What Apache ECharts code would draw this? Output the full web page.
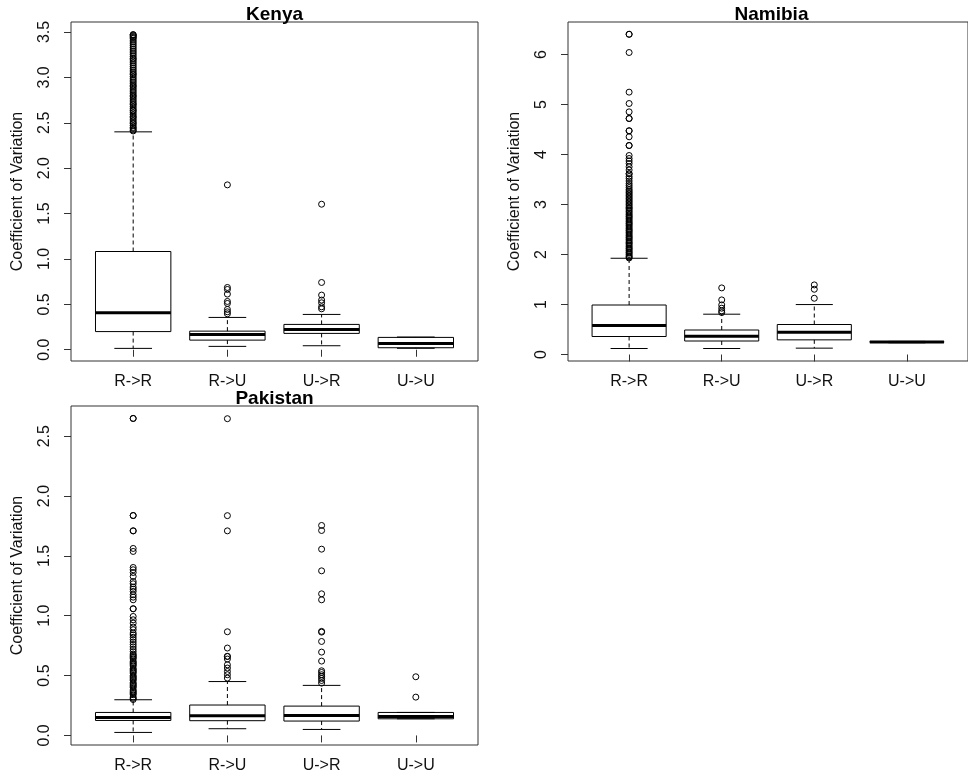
<!DOCTYPE html>
<html>
<head>
<meta charset="utf-8">
<title>Coefficient of Variation by transition type</title>
<script src="https://cdn.jsdelivr.net/npm/echarts@6/dist/echarts.min.js"></script>
<style>
  html, body { margin: 0; padding: 0; background: #ffffff; }
  #chart { width: 968px; height: 780px; }
</style>
</head>
<body>
<div id="chart"></div>
<script>
// Transition categories shared by every panel
const categories = ['R->R', 'R->U', 'U->R', 'U->U'];

// Five-number summaries per category: [lower whisker, Q1, median, Q3, upper whisker]
const kenyaStats = [
  [0.015, 0.200, 0.407, 1.082, 2.400],
  [0.037, 0.106, 0.169, 0.205, 0.356],
  [0.044, 0.180, 0.224, 0.279, 0.389],
  [0.016, 0.022, 0.070, 0.136, 0.140]
];
const namibiaStats = [
  [0.120, 0.360, 0.580, 0.990, 1.925],
  [0.120, 0.270, 0.366, 0.490, 0.806],
  [0.127, 0.293, 0.446, 0.600, 0.999],
  [0.235, 0.245, 0.250, 0.258, 0.262]
];
const pakistanStats = [
  [0.025, 0.125, 0.150, 0.192, 0.298],
  [0.056, 0.123, 0.164, 0.254, 0.450],
  [0.050, 0.120, 0.167, 0.245, 0.418],
  [0.139, 0.139, 0.159, 0.192, 0.192]
];

// Outlying observations per category
const kenyaOutliers = [
  [2.41, 2.42, 2.44, 2.45, 2.47, 2.49, 2.50, 2.52, 2.54, 2.56, 2.57, 2.59, 2.61, 2.63, 2.64, 2.66,
   2.68, 2.70, 2.71, 2.73, 2.75, 2.77, 2.79, 2.80, 2.82, 2.84, 2.86, 2.88, 2.90, 2.91, 2.93, 2.95,
   2.97, 2.99, 3.01, 3.03, 3.04, 3.06, 3.08, 3.10, 3.12, 3.14, 3.16, 3.18, 3.20, 3.21, 3.23, 3.25,
   3.27, 3.29, 3.31, 3.33, 3.35, 3.37, 3.39, 3.41, 3.43, 3.44, 3.45, 3.46, 3.47, 3.47],
  [0.396, 0.418, 0.444, 0.510, 0.532, 0.613, 0.664, 0.686, 1.816],
  [0.451, 0.473, 0.517, 0.547, 0.602, 0.741, 1.603],
  []
];
const namibiaOutliers = [
  [1.93, 1.95, 1.97, 2.00, 2.03, 2.05, 2.08, 2.11, 2.13, 2.16, 2.19, 2.22, 2.24, 2.27, 2.30, 2.33,
   2.35, 2.38, 2.41, 2.44, 2.47, 2.49, 2.52, 2.55, 2.58, 2.61, 2.63, 2.66, 2.69, 2.72, 2.75, 2.77,
   2.80, 2.83, 2.86, 2.89, 2.92, 2.94, 2.97, 3.00, 3.03, 3.06, 3.09, 3.12, 3.15, 3.18, 3.21, 3.24,
   3.27, 3.30, 3.34, 3.38, 3.42, 3.47, 3.52, 3.56, 3.615, 3.615, 3.69, 3.755, 3.82, 3.87, 3.92,
   3.98, 4.18, 4.18, 4.354, 4.474, 4.474, 4.72, 4.72, 4.853, 5.02, 5.247, 6.04, 6.405, 6.405],
  [0.839, 0.872, 0.926, 0.992, 1.092, 1.332],
  [1.125, 1.305, 1.392],
  []
];
const pakistanOutliers = [
  [0.30, 0.31, 0.32, 0.34, 0.35, 0.36, 0.37, 0.38, 0.40, 0.41, 0.42, 0.43, 0.44, 0.46, 0.47, 0.48,
   0.49, 0.50, 0.52, 0.53, 0.54, 0.55, 0.56, 0.58, 0.59, 0.60, 0.61, 0.62, 0.64, 0.65, 0.66, 0.67,
   0.68, 0.70, 0.72, 0.74, 0.76, 0.78, 0.80, 0.82, 0.84, 0.855, 0.883, 0.905, 0.938, 0.966, 0.994,
   1.058, 1.058, 1.133, 1.155, 1.175, 1.203, 1.222, 1.239, 1.267, 1.286, 1.328, 1.361, 1.384,
   1.403, 1.537, 1.562, 1.709, 1.709, 1.837, 1.837, 2.648, 2.648],
  [0.479, 0.507, 0.534, 0.563, 0.590, 0.638, 0.660, 0.660, 0.730, 0.866, 1.709, 1.836, 2.646],
  [0.437, 0.459, 0.476, 0.493, 0.507, 0.526, 0.540, 0.621, 0.696, 0.785, 0.863, 0.869,
   1.133, 1.183, 1.375, 1.556, 1.712, 1.754],
  [0.320, 0.490]
];

// Value-axis extents and tick labels
const kenyaRange = [-0.124, 3.61];
const namibiaRange = [-0.13, 6.65];
const pakistanRange = [-0.08, 2.752];
const kenyaTicks = [0, 0.5, 1.0, 1.5, 2.0, 2.5, 3.0, 3.5];
const namibiaTicks = [0, 1, 2, 3, 4, 5, 6];
const pakistanTicks = [0, 0.5, 1.0, 1.5, 2.0, 2.5];

const FONT = '"Liberation Sans", Arial, Helvetica, sans-serif';
const INK = '#000000';
const LABEL_SIZE = 16;
const TITLE_SIZE = 19;
const BOX_WIDTH = 0.8;     // box width in category units
const STAPLE_WIDTH = 0.4;  // whisker cap width in category units
const categoryPositions = categories.map((_, i) => i + 1);

const panels = [
  { title: 'Kenya', stats: kenyaStats, outliers: kenyaOutliers, range: kenyaRange, ticks: kenyaTicks, digits: 1,
    grid: { left: 71, top: 22, width: 407, height: 339 } },
  { title: 'Namibia', stats: namibiaStats, outliers: namibiaOutliers, range: namibiaRange, ticks: namibiaTicks, digits: 0,
    grid: { left: 568, top: 22, width: 407, height: 339 } },
  { title: 'Pakistan', stats: pakistanStats, outliers: pakistanOutliers, range: pakistanRange, ticks: pakistanTicks, digits: 1,
    grid: { left: 71, top: 406, width: 407, height: 339 } }
];

function renderBox(params, api) {
  const x = api.value(0);
  const lo = api.value(1), q1 = api.value(2), med = api.value(3), q3 = api.value(4), hi = api.value(5);
  const cx = api.coord([x, med])[0];
  const y = v => api.coord([x, v])[1];
  const half = api.size([BOX_WIDTH, 0])[0] / 2;
  const cap = api.size([STAPLE_WIDTH, 0])[0] / 2;
  const thin = { stroke: INK, lineWidth: 1, fill: null };
  const dashed = { stroke: INK, lineWidth: 1, lineDash: [4, 3], fill: null };
  return {
    type: 'group',
    children: [
      { type: 'line', shape: { x1: cx, y1: y(q3), x2: cx, y2: y(hi) }, style: dashed },
      { type: 'line', shape: { x1: cx, y1: y(q1), x2: cx, y2: y(lo) }, style: dashed },
      { type: 'line', shape: { x1: cx - cap, y1: y(hi), x2: cx + cap, y2: y(hi) }, style: thin },
      { type: 'line', shape: { x1: cx - cap, y1: y(lo), x2: cx + cap, y2: y(lo) }, style: thin },
      { type: 'rect', shape: { x: cx - half, y: y(q3), width: 2 * half, height: y(q1) - y(q3) }, style: thin },
      { type: 'line', shape: { x1: cx - half, y1: y(med), x2: cx + half, y2: y(med) },
        style: { stroke: INK, lineWidth: 3, fill: null } }
    ]
  };
}

const option = {
  backgroundColor: '#ffffff',
  animation: false,
  title: panels.map(p => ({
    text: p.title,
    left: p.grid.left + p.grid.width / 2,
    top: p.grid.top - 17,
    textAlign: 'center',
    padding: 0,
    textStyle: { fontFamily: FONT, fontSize: TITLE_SIZE, fontWeight: 'bold', color: INK }
  })),
  grid: panels.map(p => Object.assign({
    show: true, borderColor: '#333333', borderWidth: 1, backgroundColor: 'transparent', containLabel: false
  }, p.grid)),
  xAxis: panels.map((p, i) => ({
    type: 'value',
    gridIndex: i,
    min: 0.34,
    max: 4.66,
    axisLine: { show: false },
    splitLine: { show: false },
    axisTick: { show: true, customValues: categoryPositions, length: 7, lineStyle: { color: '#333333', width: 1 } },
    axisLabel: {
      show: true, customValues: categoryPositions, margin: 13,
      formatter: v => categories[Math.round(v) - 1],
      fontFamily: FONT, fontSize: LABEL_SIZE, color: '#111111'
    }
  })),
  yAxis: panels.map((p, i) => ({
    type: 'value',
    gridIndex: i,
    min: p.range[0],
    max: p.range[1],
    name: 'Coefficient of Variation',
    nameLocation: 'middle',
    nameRotate: 90,
    nameGap: 45,
    nameTextStyle: { fontFamily: FONT, fontSize: LABEL_SIZE, color: '#111111' },
    axisLine: { show: false },
    splitLine: { show: false },
    axisTick: { show: true, customValues: p.ticks, length: 7, lineStyle: { color: '#333333', width: 1 } },
    axisLabel: {
      show: true, customValues: p.ticks, rotate: 90, margin: 18,
      formatter: v => Number(v).toFixed(p.digits),
      fontFamily: FONT, fontSize: LABEL_SIZE, color: '#111111'
    }
  })),
  series: panels.flatMap((p, i) => [
    {
      type: 'custom',
      name: p.title + ' boxes',
      xAxisIndex: i,
      yAxisIndex: i,
      renderItem: renderBox,
      encode: { x: 0, y: [1, 2, 3, 4, 5] },
      data: p.stats.map((s, k) => [k + 1].concat(s)),
      silent: true,
      z: 2
    },
    {
      type: 'scatter',
      name: p.title + ' outliers',
      xAxisIndex: i,
      yAxisIndex: i,
      symbol: 'circle',
      symbolSize: 6,
      itemStyle: { color: 'rgba(0,0,0,0)', borderColor: INK, borderWidth: 1, opacity: 1 },
      data: p.outliers.flatMap((vals, k) => vals.map(v => [k + 1, v])),
      silent: true,
      z: 3
    }
  ])
};

const chart = echarts.init(document.getElementById('chart'), null, { renderer: 'canvas' });
chart.setOption(option);
</script>
</body>
</html>
